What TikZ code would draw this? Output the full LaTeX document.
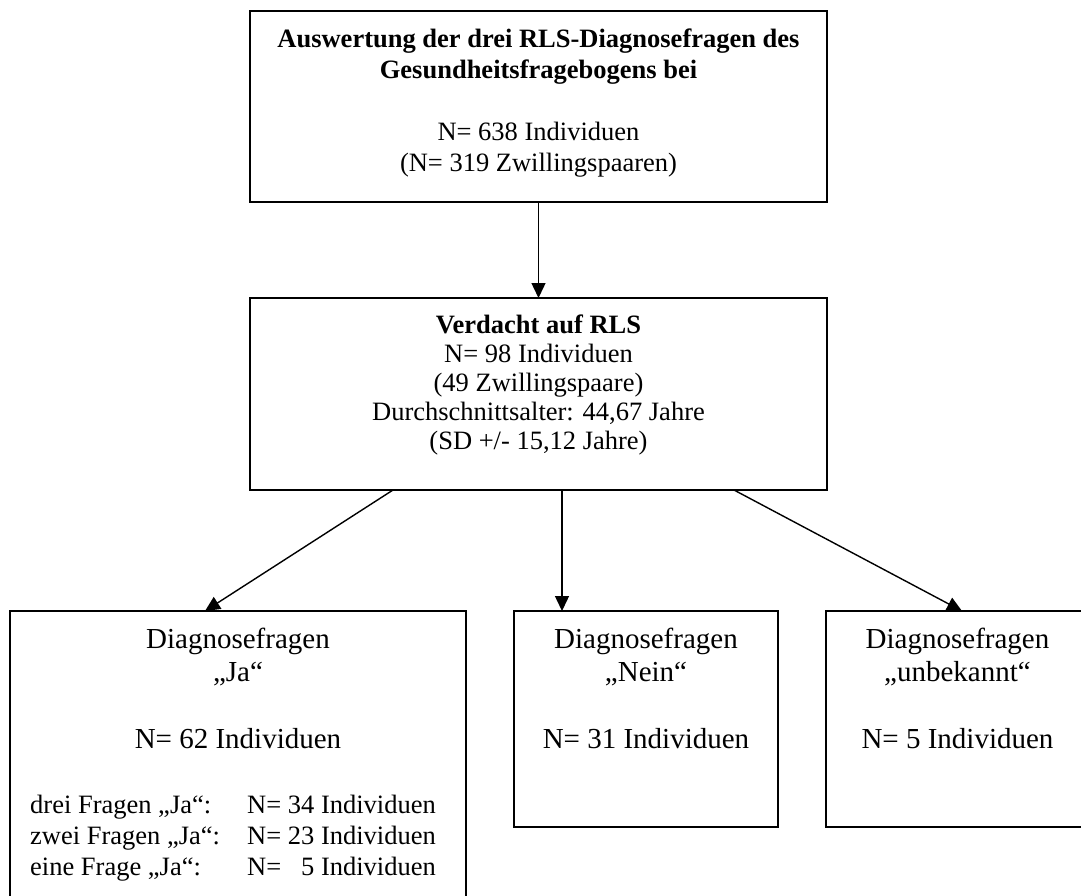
\documentclass[tikz,border=0pt]{standalone}
\usepackage{fontspec}
\setmainfont{Liberation Serif}
\usetikzlibrary{arrows.meta,calc}
\begin{document}
\begin{tikzpicture}[x=1pt,y=-1pt,
  box/.style={draw, line width=1.8pt, inner sep=0pt, outer sep=0pt, rectangle},
  arr/.style={line width=1.4pt, -{Triangle[length=15pt,width=14pt]}},
  txt/.style={inner sep=0pt, anchor=north, align=center},
  fsmall/.style={font=\fontsize{26.5pt}{31pt}\selectfont},
  fmid/.style={font=\fontsize{26.5pt}{29pt}\selectfont},
  fbig/.style={font=\fontsize{29pt}{33pt}\selectfont}
]
\useasboundingbox (0,0) rectangle (1081,895);
\clip (0,0) rectangle (1081,895);
% boxes
\node[box, minimum width=577pt, minimum height=191pt] (top) at (538.5,106.5) {};
\node[box, minimum width=577pt, minimum height=192pt] (mid) at (538.5,394) {};
\node[box, minimum width=456pt, minimum height=300pt] (ja) at (238,761) {};
\node[box, minimum width=264pt, minimum height=216pt] (nein) at (646,719) {};
\node[box, minimum width=263pt, minimum height=216pt] (unb) at (957.5,719) {};
% texts
\node[txt, fsmall] (toptext) at (538.5,27)
  {\rule{0pt}{20pt}{\bfseries Auswertung der drei RLS-Diagnosefragen des}\\
   {\bfseries Gesundheitsfragebogens bei}\\[31pt]
   N= 638 Individuen\\
   (N= 319 Zwillingspaaren)};
\node[txt, fmid] (midtext) at (538.5,313)
  {\rule{0pt}{20pt}{\bfseries Verdacht auf RLS}\\
   N= 98 Individuen\\
   (49 Zwillingspaare)\\
   Durchschnittsalter: 44,67 Jahre\\
   (SD +/- 15,12 Jahre)};
\node[txt, fbig] (jatext) at (238,626)
  {\rule{0pt}{22pt}Diagnosefragen\\ „Ja“\\[34pt] N= 62 Individuen};
\node[txt, fbig] (neintext) at (646,626)
  {\rule{0pt}{22pt}Diagnosefragen\\ „Nein“\\[34pt] N= 31 Individuen};
\node[txt, fbig] (unbtext) at (957.5,626)
  {\rule{0pt}{22pt}Diagnosefragen\\ „unbekannt“\\[34pt] N= 5 Individuen};
\node[inner sep=0pt, anchor=north west, align=left, fsmall] (rows) at (30,793)
  {\rule{0pt}{20pt}\makebox[217pt][l]{drei Fragen „Ja“:}N= 34 Individuen\\
   \makebox[217pt][l]{zwei Fragen „Ja“:}N= 23 Individuen\\
   \makebox[217pt][l]{eine Frage „Ja“:}N= \phantom{3}5 Individuen};
% connectors
\draw[arr] (top.south) -- (mid.north);
\draw[arr] ($(mid.south)+(-145.5,0)$) -- ($(ja.north)+(-33,0)$);
\draw[arr] ($(mid.south)+(23.5,0)$) -- ($(nein.north)+(-84,0)$);
\draw[arr] ($(mid.south)+(195.5,0)$) -- ($(unb.north)+(4.5,0)$);
\end{tikzpicture}
\end{document}
